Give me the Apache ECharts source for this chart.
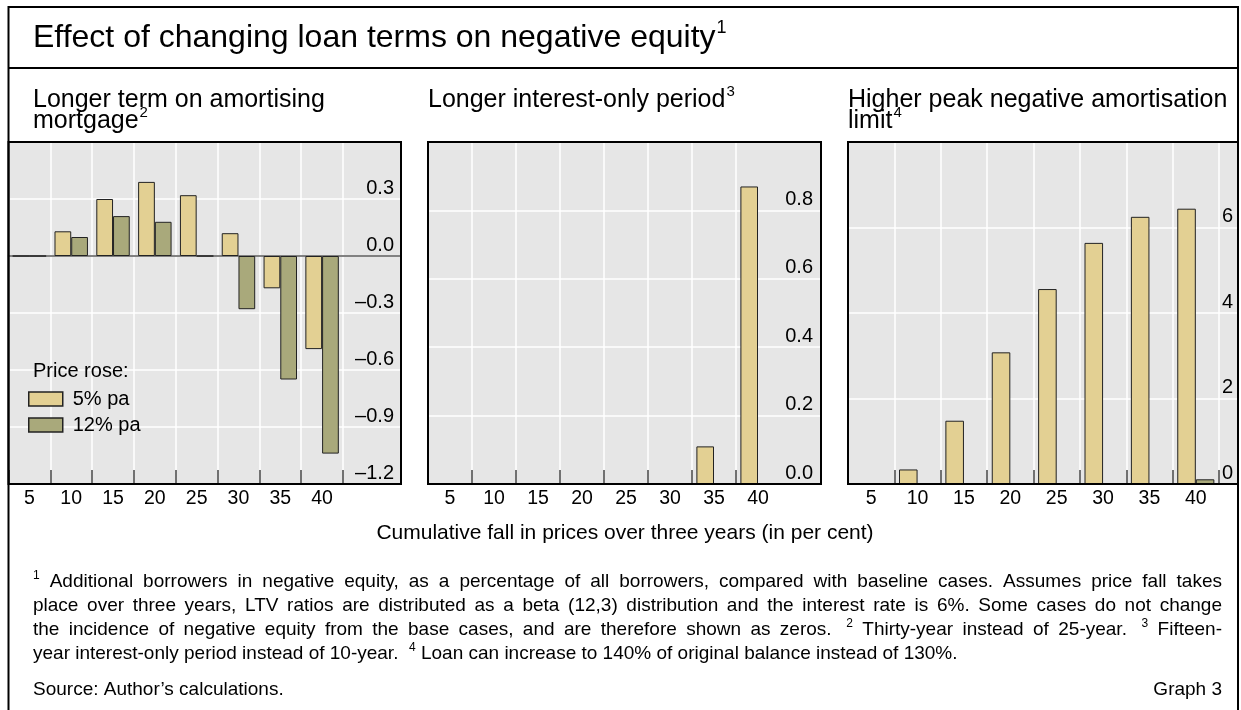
<!DOCTYPE html>
<html>
<head>
<meta charset="utf-8">
<script src="https://cdn.jsdelivr.net/npm/echarts@6/dist/echarts.min.js"></script>
<style>
  html, body { margin: 0; padding: 0; background: #fff; }
  #chart { width: 1241px; height: 710px; }
</style>
</head>
<body>
<div id="chart"></div>
<script>
// Cumulative fall in prices over three years (per cent)
const categories = ['5', '10', '15', '20', '25', '30', '35', '40'];
const seriesNames = ['5% pa', '12% pa'];

// Longer term on amortising mortgage
const termRise5 = [0, 0.13, 0.30, 0.39, 0.32, 0.12, -0.17, -0.49];
const termRise12 = [0, 0.10, 0.21, 0.18, 0, -0.28, -0.65, -1.04];

// Longer interest-only period
const ioRise5 = [0, 0, 0, 0, 0, 0, 0.11, 0.87];
const ioRise12 = [0, 0, 0, 0, 0, 0, 0, 0];

// Higher peak negative amortisation limit
const negAmRise5 = [0, 0.34, 1.48, 3.08, 4.56, 5.64, 6.25, 6.44];
const negAmRise12 = [0, 0, 0, 0, 0, 0, 0, 0.11];

// value scales: [min, max, step]
const termScale = [-1.2, 0.6, 0.3];
const ioScale = [0, 1.0, 0.2];
const negAmScale = [0, 8, 2];

const panelTitles = [
  ['Longer term on amortising', 'mortgage'],
  ['Longer interest-only period'],
  ['Higher peak negative amortisation', 'limit']
];
const panelNotes = ['2', '3', '4'];

const chartTitle = 'Effect of changing loan terms on negative equity';
const axisTitle = 'Cumulative fall in prices over three years (in per cent)';
const legendTitle = 'Price rose:';
const footnoteLines = [
  '^1 Additional borrowers in negative equity, as a percentage of all borrowers, compared with baseline cases. Assumes price fall takes',
  'place over three years, LTV ratios are distributed as a beta (12,3) distribution and the interest rate is 6%. Some cases do not change',
  'the incidence of negative equity from the base cases, and are therefore shown as zeros.  ^2 Thirty-year instead of 25-year.  ^3 Fifteen-',
  'year interest-only period instead of 10-year.  ^4 Loan can increase to 140% of original balance instead of 130%.'
];
const sourceText = 'Source: Author\u2019s calculations.';
const graphText = 'Graph 3';

const FONT = '"Liberation Sans", Arial, Helvetica, sans-serif';
const COLORS = ['#e3d093', '#a9a97b'];
const TOP = 142, BOTTOM = 484;
const TICK_FONT = 19.5, VALUE_FONT = 20;
const TICK_STYLE = { color: '#444', width: 1.5 };

// closedEnd: whether the band's right-hand boundary carries a tick and grid line
const panels = [
  { left: 8.5, right: 401, catRight: 343, margin: 7, scale: termScale, data: [termRise5, termRise12], dec: 1, tx: 33, closedEnd: true },
  { left: 428, right: 821, catRight: 780, margin: 8, scale: ioScale, data: [ioRise5, ioRise12], dec: 1, tx: 428, closedEnd: false },
  { left: 848, right: 1238, catRight: 1219, margin: 5, scale: negAmScale, data: [negAmRise5, negAmRise12], dec: 0, tx: 848, closedEnd: true }
];

function makeFormatter(max, dec) {
  return function (v) {
    if (Math.abs(v - max) < 1e-9) return '';
    const s = Math.abs(v).toFixed(dec);
    return (v < -1e-9 ? '\u2013' : '') + s;
  };
}

const grids = [], xAxes = [], yAxes = [], series = [];
panels.forEach(function (p, i) {
  const mn = p.scale[0], mx = p.scale[1], step = p.scale[2];
  const gA = grids.length;
  // shaded plot area with horizontal grid lines and value labels
  grids.push({ left: p.left, top: TOP, width: p.right - p.left, height: BOTTOM - TOP,
    show: true, backgroundColor: '#e6e6e6', borderWidth: 0 });
  xAxes.push({ gridIndex: gA, type: 'value', min: 0, max: 1,
    axisLabel: { show: false }, splitLine: { show: false }, axisTick: { show: false },
    axisLine: { show: mn < 0, onZero: true, lineStyle: { color: '#5a5a5a', width: 1.5 } } });
  yAxes.push({ gridIndex: gA, type: 'value', position: 'right', min: mn, max: mx, interval: step,
    axisLine: { show: false }, axisTick: { show: false },
    splitLine: { show: true, lineStyle: { color: '#ffffff', width: 1.5 } },
    axisLabel: { inside: true, margin: p.margin, verticalAlign: 'bottom', padding: [0, 0, 1, 0],
      fontSize: VALUE_FONT, color: '#000', fontFamily: FONT, formatter: makeFormatter(mx, p.dec) } });
  // category band for the bars
  const gB = grids.length;
  grids.push({ left: p.left, top: TOP, width: p.catRight - p.left, height: BOTTOM - TOP, show: false });
  xAxes.push({ gridIndex: gB, type: 'category', data: categories, boundaryGap: true,
    axisLine: { show: false, onZero: false },
    axisTick: { show: p.closedEnd, inside: true, length: 14, interval: 0, lineStyle: TICK_STYLE },
    splitLine: { show: true, interval: 0, showMaxLine: p.closedEnd, lineStyle: { color: '#ffffff', width: 1.5 } },
    axisLabel: { margin: 5, interval: 0, fontSize: TICK_FONT, color: '#000', fontFamily: FONT } });
  yAxes.push({ gridIndex: gB, type: 'value', min: mn, max: mx, interval: step, show: false });
  if (!p.closedEnd) {
    // open-ended band: ticks only on the left edge of each category
    const band = (p.catRight - p.left) / categories.length;
    const gT = grids.length;
    grids.push({ left: p.left, top: TOP, width: band * (categories.length - 1), height: BOTTOM - TOP, show: false });
    xAxes.push({ gridIndex: gT, type: 'category', data: categories, boundaryGap: false,
      axisLine: { show: false, onZero: false }, axisLabel: { show: false }, splitLine: { show: false },
      axisTick: { show: true, inside: true, length: 14, interval: 0, lineStyle: TICK_STYLE } });
    yAxes.push({ gridIndex: gT, type: 'value', min: mn, max: mx, show: false });
  }
  p.data.forEach(function (d, k) {
    series.push({ type: 'bar', name: seriesNames[k], xAxisIndex: gB, yAxisIndex: gB,
      data: d, barGap: '0%', barCategoryGap: '20%',
      itemStyle: { color: COLORS[k], borderColor: '#222', borderWidth: 1 },
      emphasis: { disabled: true } });
  });
});

// text measurement for superscript placement and justified footnotes
const mctx = document.createElement('canvas').getContext('2d');
function textWidth(str, size) {
  mctx.font = size + 'px ' + FONT;
  return mctx.measureText(str).width;
}

function txt(x, y, text, size, align, vAlign) {
  return { type: 'text', x: x, y: y, silent: true, z: 100,
    style: { text: text, fontSize: size, fontFamily: FONT, fill: '#000',
      align: align || 'left', textAlign: align || 'left',
      verticalAlign: vAlign || 'middle', textVerticalAlign: vAlign || 'middle' } };
}

const graphics = [];
// outer border and rule under the heading
graphics.push({ type: 'polyline', silent: true, z: 100,
  shape: { points: [[8.5, 720], [8.5, 7], [1238, 7], [1238, 720]] },
  style: { stroke: '#000', fill: 'none', lineWidth: 2 } });
graphics.push({ type: 'line', silent: true, z: 100,
  shape: { x1: 8.5, y1: 68, x2: 1238, y2: 68 }, style: { stroke: '#000', lineWidth: 2 } });
// panel frames
panels.forEach(function (p) {
  graphics.push({ type: 'rect', silent: true, z: 100,
    shape: { x: p.left, y: TOP, width: p.right - p.left, height: BOTTOM - TOP },
    style: { fill: 'none', stroke: '#000', lineWidth: 2 } });
});

// heading with note marker
const TITLE_SIZE = 32;
graphics.push(txt(33, 38, chartTitle, TITLE_SIZE));
graphics.push(txt(33 + textWidth(chartTitle, TITLE_SIZE) + 1, 28, '1', 18));

// panel headings with note markers
const SUB_SIZE = 25, SUB_Y = 100, SUB_STEP = 21;
panels.forEach(function (p, i) {
  const lines = panelTitles[i];
  lines.forEach(function (l, j) {
    const y = SUB_Y + j * SUB_STEP;
    graphics.push(txt(p.tx, y, l, SUB_SIZE));
    if (j === lines.length - 1) {
      graphics.push(txt(p.tx + textWidth(l, SUB_SIZE) + 1, y - 8, panelNotes[i], 15));
    }
  });
});

// legend heading
graphics.push(txt(33, 371, legendTitle, 20));
// shared category axis title
graphics.push(txt(625, 533, axisTitle, 21, 'center'));

// justified footnotes
const FN = 19, FN_SUP = 12, FN_LEFT = 33, FN_RIGHT = 1222, FN_Y0 = 582, FN_STEP = 24;
footnoteLines.forEach(function (line, li) {
  const pieces = line.split(/( +)/).filter(function (s) { return s.length; });
  const words = [], gaps = [];
  pieces.forEach(function (s) {
    if (s[0] === ' ') { gaps[words.length - 1] = s.length; }
    else { words.push(s); }
  });
  const space = textWidth(' ', FN);
  const widths = words.map(function (w) {
    return w[0] === '^' ? textWidth(w.slice(1), FN_SUP) : textWidth(w, FN);
  });
  let natural = 0;
  widths.forEach(function (w, k) { natural += w + (k < words.length - 1 ? (gaps[k] || 1) * space : 0); });
  const justify = li < footnoteLines.length - 1;
  const extra = justify ? (FN_RIGHT - FN_LEFT - natural) / Math.max(1, words.length - 1) : 0;
  let x = FN_LEFT;
  const y = FN_Y0 + li * FN_STEP;
  words.forEach(function (w, k) {
    if (w[0] === '^') graphics.push(txt(x, y - 6, w.slice(1), FN_SUP));
    else graphics.push(txt(x, y, w, FN));
    x += widths[k] + (gaps[k] || 1) * space + extra;
  });
});
graphics.push(txt(FN_LEFT, 690, sourceText, FN));
graphics.push(txt(FN_RIGHT, 690, graphText, FN, 'right'));

const chart = echarts.init(document.getElementById('chart'));
chart.setOption({
  animation: false,
  backgroundColor: '#ffffff',
  grid: grids,
  xAxis: xAxes,
  yAxis: yAxes,
  legend: {
    data: seriesNames, orient: 'vertical', left: 28, top: 389, padding: 0,
    itemWidth: 34, itemHeight: 14, itemGap: 6, icon: 'rect', selectedMode: false,
    itemStyle: { borderColor: '#222', borderWidth: 1.5 },
    textStyle: { fontSize: 20, color: '#000', fontFamily: FONT, padding: [0, 0, 0, 5] }
  },
  series: series,
  graphic: { elements: graphics }
});
</script>
</body>
</html>
